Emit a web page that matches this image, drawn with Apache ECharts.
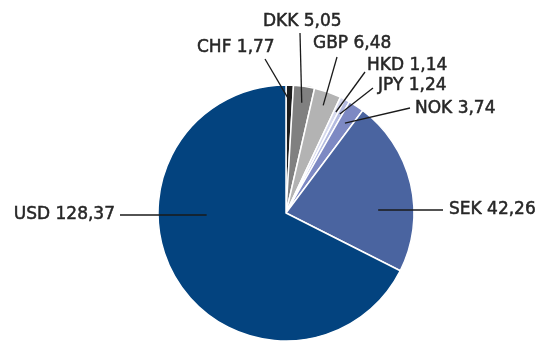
<!DOCTYPE html>
<html>
<head>
<meta charset="utf-8">
<script src="https://cdn.jsdelivr.net/npm/echarts@6/dist/echarts.min.js"></script>
<style>
  html, body { margin: 0; padding: 0; background: #fff; }
  #chart { width: 540px; height: 341px; }
</style>
</head>
<body>
<div id="chart"></div>
<script>
// Currency breakdown, clockwise from 12 o'clock
const currencies = ['CHF', 'DKK', 'GBP', 'HKD', 'JPY', 'NOK', 'SEK', 'USD'];
const amounts = [1.77, 5.05, 6.48, 1.14, 1.24, 3.74, 42.26, 128.37];
const sliceColors = ['#1c1c1c', '#808080', '#b3b3b3', '#d6d9ed', '#b4bbe0', '#7d89c3', '#4a64a0', '#03437f'];

// Where each callout sits: text anchor, text alignment, and the elbow of its leader.
// 'mid' leaders start inside the slice on its bisector; 'flat' leaders run level with the text.
const callouts = [
  { x: 197, y: 48,  align: 'left',  lead: 'mid',  frac: 0.88, end: [265, 59] },
  { x: 263, y: 22,  align: 'left',  lead: 'mid',  frac: 0.87, end: [300, 33] },
  { x: 313, y: 44,  align: 'left',  lead: 'mid',  frac: 0.89, end: [337, 57] },
  { x: 367, y: 66,  align: 'left',  lead: 'mid',  frac: 0.88, end: [365, 72] },
  { x: 378, y: 86,  align: 'left',  lead: 'mid',  frac: 0.88, end: [373, 88] },
  { x: 415, y: 109, align: 'left',  lead: 'mid',  frac: 0.84, end: [410, 108] },
  { x: 449, y: 210, align: 'left',  lead: 'flat', frac: 0.72, end: [443, 210] },
  { x: 115, y: 215, align: 'right', lead: 'flat', frac: 0.62, end: [120, 215] }
];

const fmt = v => v.toFixed(2).replace('.', ',');

const chart = echarts.init(document.getElementById('chart'), null, { renderer: 'canvas' });

function leaderStart(idx) {
  const data = chart.getModel().getSeriesByIndex(1).getData();
  const lay = data.getItemLayout(idx);
  const c = callouts[idx];
  if (c.lead === 'mid') {
    const a = (lay.startAngle + lay.endAngle) / 2;
    return [lay.cx + c.frac * lay.r * Math.cos(a), lay.cy + c.frac * lay.r * Math.sin(a)];
  }
  const dir = c.align === 'left' ? 1 : -1;
  return [lay.cx + dir * c.frac * lay.r, c.end[1]];
}

const pieBase = {
  type: 'pie',
  center: [286, 213],
  radius: [0, 128],
  startAngle: 90,
  clockwise: true,
  avoidLabelOverlap: false,
  minAngle: 0,
  emphasis: { disabled: true },
  silent: true
};

chart.setOption({
  animation: false,
  backgroundColor: '#ffffff',
  series: [
    // coloured slices
    Object.assign({}, pieBase, {
      z: 1,
      data: currencies.map((name, i) => ({
        name: name,
        value: amounts[i],
        itemStyle: { color: sliceColors[i] }
      })),
      itemStyle: { borderColor: '#ffffff', borderWidth: 1.5 },
      label: { show: false },
      labelLine: { show: false }
    }),
    // transparent overlay carrying the callouts so leaders reach into the slices
    Object.assign({}, pieBase, {
      z: 5,
      data: currencies.map((name, i) => ({ name: name, value: amounts[i] })),
      itemStyle: { color: 'rgba(0,0,0,0)', borderWidth: 0 },
      label: {
        show: true,
        position: 'outside',
        formatter: p => p.name + ' ' + fmt(p.value),
        fontFamily: 'DejaVu Sans',
        fontSize: 17,
        color: '#262626',
        textBorderColor: '#262626',
        textBorderWidth: 0.5
      },
      labelLine: {
        show: true,
        length: 10,
        length2: 10,
        lineStyle: { color: '#1a1a1a', width: 1.3 }
      },
      labelLayout: function (params) {
        const i = params.dataIndex;
        const c = callouts[i];
        const s = leaderStart(i);
        return {
          x: c.x,
          y: c.y,
          align: c.align,
          verticalAlign: 'middle',
          labelLinePoints: [s, c.end, c.end]
        };
      }
    })
  ]
});
</script>
</body>
</html>
